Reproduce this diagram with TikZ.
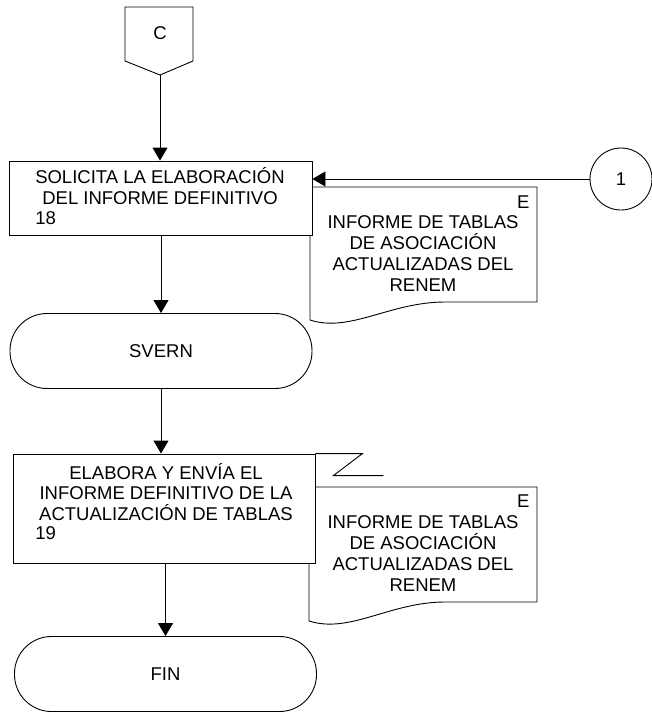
\documentclass[tikz,border=0pt]{standalone}
\usepackage{fontspec}
\setmainfont{Liberation Sans}
\usetikzlibrary{arrows.meta}

\begin{document}
\begin{tikzpicture}[x=1pt, y=-1pt, line width=0.9pt,
    box/.style={draw=borderColour, fill=white, inner sep=0pt},
    terminal/.style={box, rounded corners=37pt, minimum width=302pt, minimum height=75pt},
    txt/.style={inner sep=0pt, align=center, font=\fontsize{18.5}{20.5}\selectfont},
    doctxt/.style={txt, font=\fontsize{18.5}{21}\selectfont},
    flow/.style={-{Triangle[length=13pt,width=15pt]}}]
    \definecolor{borderColour}{HTML}{000000}

    \useasboundingbox (0,0) rectangle (652,712);

    % Off-page connector C
    \draw (125,7) -- (193,7) -- (193,61) -- (160,75) -- (125,61) -- cycle;
    \coordinate (C) at (160,75);
    \node[txt] (Clabel) at (160,33) {C};

    % Documents behind the process boxes
    \draw[fill=white] (310,187) -- (537,187) -- (537,302) -- (445,302)
        .. controls (390,302) and (350,333) .. (310,320) -- cycle;
    \node[doctxt, anchor=base east] (doc18E) at (530,208) {E};
    \node[doctxt] (doc18) at (423,254) {INFORME DE TABLAS\\DE ASOCIACIÓN\\ACTUALIZADAS DEL\\RENEM};

    \draw[fill=white] (309,487) -- (537,487) -- (537,602) -- (445,602)
        .. controls (390,602) and (350,634) .. (309,621) -- cycle;
    \node[doctxt, anchor=base east] (doc19E) at (530,507) {E};
    \node[doctxt] (doc19) at (423,554) {INFORME DE TABLAS\\DE ASOCIACIÓN\\ACTUALIZADAS DEL\\RENEM};

    % Step 18
    \node[box, minimum width=303pt, minimum height=74pt] (b18) at (160.5,198) {};
    \node[txt] (b18txt) at (160,186) {SOLICITA LA ELABORACIÓN\\DEL INFORME DEFINITIVO};
    \node[txt, anchor=base west] (b18num) at (35,224) {18};

    % Connector 1
    \node[draw, circle, minimum size=62pt, inner sep=0pt, txt] (c1) at (621,179) {1};

    % SVERN
    \node[terminal, txt] (svern) at (161,351) {SVERN};

    % Step 19
    \node[box, minimum width=302pt, minimum height=109pt] (b19) at (164,508.5) {};
    \node[txt] (b19txt) at (166,492) {ELABORA Y ENVÍA EL\\INFORME DEFINITIVO DE LA\\ACTUALIZACIÓN DE TABLAS};
    \node[txt, anchor=base west] (b19num) at (35,539) {19};
    \draw (b19.north east) -- ++(47,0) -- ++(-29,22) -- ++(50,0);

    % FIN
    \node[terminal, txt] (fin) at (165.5,674) {FIN};

    % Flow lines
    \draw[flow] (C) -- (C |- b18.north);
    \draw[flow] (c1.west) -- (c1.west -| b18.east);
    \draw[flow] (b18.south -| svern.north) -- (svern.north);
    \draw[flow] (svern.south) -- (svern.south |- b19.north);
    \draw[flow] (b19.south -| fin.north) -- (fin.north);

\end{tikzpicture}
\end{document}
